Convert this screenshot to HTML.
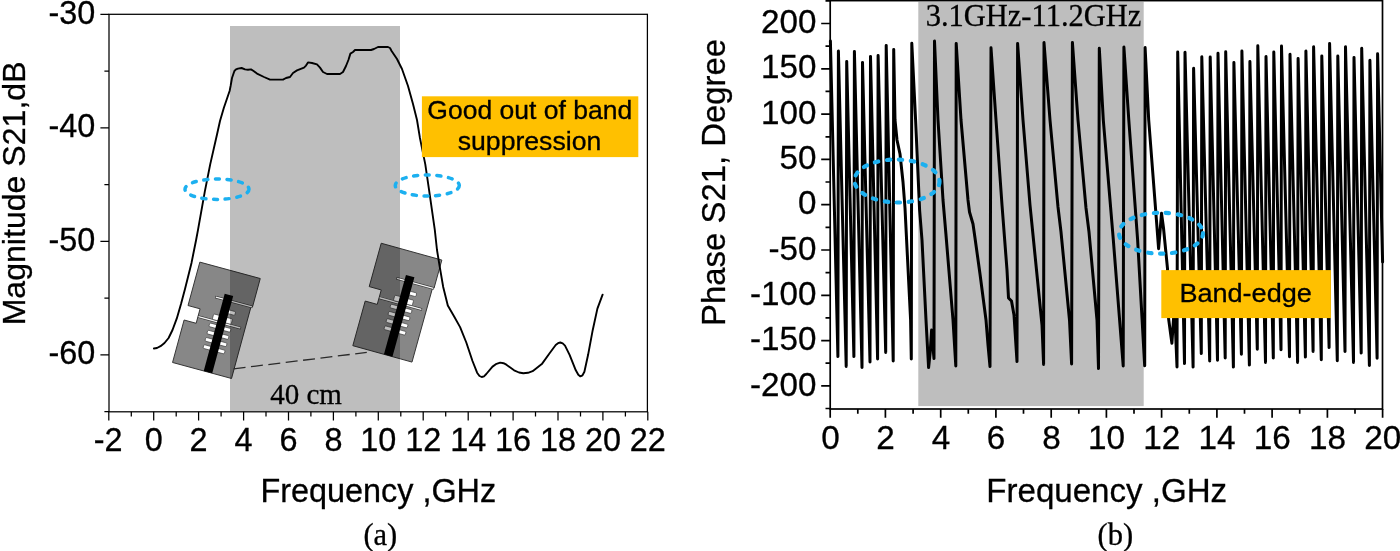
<!DOCTYPE html>
<html lang="en">
<head>
<meta charset="utf-8">
<title>S21 magnitude and phase</title>
<style>
html,body{margin:0;padding:0;background:#fff;}
body{width:1400px;height:551px;overflow:hidden;}
svg{display:block;}
text{fill:#000;stroke:#000;stroke-width:.3px;}
.s{font-family:"Liberation Sans", Arial, Helvetica, sans-serif;}
.r{font-family:"Liberation Serif", "Times New Roman", serif;}
</style>
</head>
<body>
<svg width="1400" height="551" viewBox="0 0 1400 551">
<rect width="1400" height="551" fill="#fff"/>
<g id="chart-a">
<g transform="translate(216.4 320.5) rotate(15.2) translate(-31.3 -52)">
<path d="M0 0H62.6 V29.3 H61.1 V104 H0 V60 H12.5 V45 H0 Z" fill="#878787" stroke="#333" stroke-width="0.9" stroke-linejoin="round"/>
<path d="M24 29.6H62.6 M12.5 53H57" stroke="#333" stroke-width="2.6" fill="none"/>
<path d="M24.6 29.6H62 M13 53H56.4" stroke="#f4f4f4" stroke-width="1.4" fill="none"/>
<rect x="27" y="46.3" width="19.5" height="5.6" rx="1" fill="#fff" stroke="#333" stroke-width="0.6"/>
<rect x="25.6" y="56" width="8" height="3.8" rx="1" fill="#fff" stroke="#333" stroke-width="0.6"/>
<rect x="25.6" y="63.5" width="8" height="3.8" rx="1" fill="#fff" stroke="#333" stroke-width="0.6"/>
<rect x="25.6" y="71" width="8" height="3.8" rx="1" fill="#fff" stroke="#333" stroke-width="0.6"/>
<rect x="25.6" y="78.5" width="8" height="3.8" rx="1" fill="#fff" stroke="#333" stroke-width="0.6"/>
<rect x="40" y="38.5" width="7.6" height="3.8" rx="1" fill="#fff" stroke="#333" stroke-width="0.6"/>
<rect x="40" y="56" width="7.6" height="3.8" rx="1" fill="#fff" stroke="#333" stroke-width="0.6"/>
<rect x="40" y="63.5" width="7.6" height="3.8" rx="1" fill="#fff" stroke="#333" stroke-width="0.6"/>
<rect x="40" y="71" width="7.6" height="3.8" rx="1" fill="#fff" stroke="#333" stroke-width="0.6"/>
<rect x="40" y="78.5" width="7.6" height="3.8" rx="1" fill="#fff" stroke="#333" stroke-width="0.6"/>
<rect x="32.3" y="24" width="8.8" height="80" fill="#000"/>
</g>
<g transform="translate(397.3 302.8) rotate(15.5) translate(-31.4 -53.1)">
<path d="M0 0H62.9 V29.3 H61.4 V106.3 H0 V60 H12.5 V45 H0 Z" fill="#878787" stroke="#333" stroke-width="0.9" stroke-linejoin="round"/>
<path d="M24 29.6H62.9 M12.5 53H57" stroke="#333" stroke-width="2.6" fill="none"/>
<path d="M24.6 29.6H62.3 M13 53H56.4" stroke="#f4f4f4" stroke-width="1.4" fill="none"/>
<rect x="27" y="46.3" width="19.5" height="5.6" rx="1" fill="#fff" stroke="#333" stroke-width="0.6"/>
<rect x="25.6" y="56" width="8" height="3.8" rx="1" fill="#fff" stroke="#333" stroke-width="0.6"/>
<rect x="25.6" y="63.5" width="8" height="3.8" rx="1" fill="#fff" stroke="#333" stroke-width="0.6"/>
<rect x="25.6" y="71" width="8" height="3.8" rx="1" fill="#fff" stroke="#333" stroke-width="0.6"/>
<rect x="25.6" y="78.5" width="8" height="3.8" rx="1" fill="#fff" stroke="#333" stroke-width="0.6"/>
<rect x="40" y="38.5" width="7.6" height="3.8" rx="1" fill="#fff" stroke="#333" stroke-width="0.6"/>
<rect x="40" y="56" width="7.6" height="3.8" rx="1" fill="#fff" stroke="#333" stroke-width="0.6"/>
<rect x="40" y="63.5" width="7.6" height="3.8" rx="1" fill="#fff" stroke="#333" stroke-width="0.6"/>
<rect x="40" y="71" width="7.6" height="3.8" rx="1" fill="#fff" stroke="#333" stroke-width="0.6"/>
<rect x="40" y="78.5" width="7.6" height="3.8" rx="1" fill="#fff" stroke="#333" stroke-width="0.6"/>
<rect x="32.3" y="24" width="8.8" height="82.3" fill="#000"/>
</g>
<path d="M233.6 368.8L366.8 352.4" stroke="#3a3a3a" stroke-width="1.3" stroke-dasharray="12 5.5" fill="none"/>
<rect x="230" y="26" width="170" height="385" fill="#000" fill-opacity="0.255"/>
<rect x="109" y="14.3" width="538.4" height="397.5" fill="none" stroke="#000" stroke-width="1.25"/>
<path d="M109 14.4H100.4M109 127.9H100.4M109 241.4H100.4M109 354.9H100.4M109 71.2H104.4M109 184.7H104.4M109 298.1H104.4M109 411.6H104.4M108.8 411.8V420.6M131.3 411.8V416.5M153.7 411.8V420.6M176.2 411.8V416.5M198.6 411.8V420.6M221.1 411.8V416.5M243.6 411.8V420.6M266 411.8V416.5M288.5 411.8V420.6M310.9 411.8V416.5M333.4 411.8V420.6M355.9 411.8V416.5M378.3 411.8V420.6M400.8 411.8V416.5M423.2 411.8V420.6M445.7 411.8V416.5M468.2 411.8V420.6M490.6 411.8V416.5M513.1 411.8V420.6M535.5 411.8V416.5M558 411.8V420.6M580.5 411.8V416.5M602.9 411.8V420.6M625.4 411.8V416.5M647.8 411.8V420.6" stroke="#000" stroke-width="1.25" fill="none"/>
<text class="s" transform="translate(95.4 23.7)" font-size="32.4" text-anchor="end">-30</text>
<text class="s" transform="translate(95.4 137.2)" font-size="32.4" text-anchor="end">-40</text>
<text class="s" transform="translate(95.4 250.7)" font-size="32.4" text-anchor="end">-50</text>
<text class="s" transform="translate(95.4 364.2)" font-size="32.4" text-anchor="end">-60</text>
<text class="s" transform="translate(108.2 450.7)" font-size="32.4" text-anchor="middle">-2</text>
<text class="s" transform="translate(153.7 450.7)" font-size="32.4" text-anchor="middle">0</text>
<text class="s" transform="translate(198.6 450.7)" font-size="32.4" text-anchor="middle">2</text>
<text class="s" transform="translate(243.6 450.7)" font-size="32.4" text-anchor="middle">4</text>
<text class="s" transform="translate(288.5 450.7)" font-size="32.4" text-anchor="middle">6</text>
<text class="s" transform="translate(333.4 450.7)" font-size="32.4" text-anchor="middle">8</text>
<text class="s" transform="translate(378.3 450.7)" font-size="32.4" text-anchor="middle">10</text>
<text class="s" transform="translate(423.2 450.7)" font-size="32.4" text-anchor="middle">12</text>
<text class="s" transform="translate(468.2 450.7)" font-size="32.4" text-anchor="middle">14</text>
<text class="s" transform="translate(513.1 450.7)" font-size="32.4" text-anchor="middle">16</text>
<text class="s" transform="translate(558 450.7)" font-size="32.4" text-anchor="middle">18</text>
<text class="s" transform="translate(602.9 450.7)" font-size="32.4" text-anchor="middle">20</text>
<text class="s" transform="translate(647.8 450.7)" font-size="32.4" text-anchor="middle">22</text>
<text class="s" transform="translate(24.5 193.4) rotate(-90)" font-size="32.1" text-anchor="middle">Magnitude S21,dB</text>
<text class="s" transform="translate(378.3 502.2)" font-size="32.4" text-anchor="middle">Frequency ,GHz</text>
<text class="r" transform="translate(380.3 545.1)" font-size="30.5" text-anchor="middle">(a)</text>
<text class="r" transform="translate(306 404.4)" font-size="29" text-anchor="middle">40 cm</text>
<polyline points="153.9,348.5 157,348 160.5,346.2 164.5,343 168.6,338 172.5,330 176.8,318.4 181,304 185,289 191.5,262.9 196.1,240 198,229.8 204.8,191.7 210.2,164.4 217,134.5 220,121 223.8,108 229.6,91 230.6,86 232,78 234.4,71 236,69.4 238,68.6 241.6,68 245,69.4 248,69.7 251,69.4 253.6,71 257,73.6 264,77 270,79.6 283,79.6 286,78 290,77 293,73 297,70.4 304,67.6 306,65.6 308,62.4 312,63 317,64.4 320,67.6 323,72 327,74 340,74 343,72 346,66 348.4,60 350.4,53.6 353,52 355,50 371,50 374,49 378,47 388,47 390,48 391.6,51 397,59 402,69 408,86 413,104 417,120 419.8,137.2 425.3,164.4 429.3,191.7 434.8,229.8 437,250 439.5,265.4 443.2,287 447.8,305.5 454,316.3 460.1,327.1 466.3,342.5 472.5,361 477.1,372.7 479.5,376 481.7,377 484,376.3 486.3,374 492.5,366.6 496.5,363.8 500.2,362.6 503.5,363.2 506.4,364.7 514.1,370.3 519,372.5 523.3,373.3 528,372.8 532.6,371.2 541.8,364.1 549.6,353.3 555.7,345 558,343.2 560.3,342.5 562.7,343.4 565,345.6 569.6,354.8 575.8,370.3 578.3,374.8 580.4,376.4 582.5,375.3 584.4,371.8 588.1,354.8 592.7,330.2 597.4,308.6 602.6,294.7" fill="none" stroke="#000" stroke-width="1.9" stroke-linejoin="round" stroke-linecap="round"/>
<ellipse cx="217" cy="189.2" rx="32" ry="10.2" fill="none" stroke="#1cb0f0" stroke-width="3.5" stroke-dasharray="4 7.6" stroke-linecap="round"/>
<ellipse cx="427.3" cy="185.5" rx="32" ry="10.5" fill="none" stroke="#1cb0f0" stroke-width="3.5" stroke-dasharray="4 7.6" stroke-linecap="round"/>
<rect x="421.9" y="96.3" width="216.4" height="60.8" fill="#ffc000"/>
<text class="s" transform="translate(529.8 118.7) scale(1.062 1)" font-size="25" text-anchor="middle">Good out of band</text>
<text class="s" transform="translate(529.5 150.3) scale(1.065 1)" font-size="25" text-anchor="middle">suppression</text>
</g>
<g id="chart-b">
<rect x="918.3" y="1.8" width="225.4" height="404.3" fill="#bebebe"/>
<text class="r" transform="translate(1033.5 25.7)" font-size="30.5" text-anchor="middle">3.1GHz-11.2GHz</text>
<rect x="830.2" y="0.6" width="552.3" height="408.4" fill="none" stroke="#000" stroke-width="1.7"/>
<path d="M830.2 408.5H825.5M830.2 385.9H821.2M830.2 363.2H825.5M830.2 340.6H821.2M830.2 317.9H825.5M830.2 295.3H821.2M830.2 272.6H825.5M830.2 250H821.2M830.2 227.3H825.5M830.2 204.7H821.2M830.2 182H825.5M830.2 159.4H821.2M830.2 136.8H825.5M830.2 114.1H821.2M830.2 91.4H825.5M830.2 68.8H821.2M830.2 46.1H825.5M830.2 23.5H821.2M830.2 0.8H825.5M830.2 409V417.8M857.8 409V413.7M885.4 409V417.8M913.1 409V413.7M940.7 409V417.8M968.3 409V413.7M995.9 409V417.8M1023.5 409V413.7M1051.2 409V417.8M1078.8 409V413.7M1106.4 409V417.8M1134 409V413.7M1161.6 409V417.8M1189.3 409V413.7M1216.9 409V417.8M1244.5 409V413.7M1272.1 409V417.8M1299.7 409V413.7M1327.4 409V417.8M1355 409V413.7M1382.6 409V417.8" stroke="#000" stroke-width="1.7" fill="none"/>
<text class="s" transform="translate(816.4 395.5)" font-size="33.2" text-anchor="end">-200</text>
<text class="s" transform="translate(816.4 350.2)" font-size="33.2" text-anchor="end">-150</text>
<text class="s" transform="translate(816.4 304.9)" font-size="33.2" text-anchor="end">-100</text>
<text class="s" transform="translate(816.4 259.6)" font-size="33.2" text-anchor="end">-50</text>
<text class="s" transform="translate(816.4 214.3)" font-size="33.2" text-anchor="end">0</text>
<text class="s" transform="translate(816.4 169)" font-size="33.2" text-anchor="end">50</text>
<text class="s" transform="translate(816.4 123.7)" font-size="33.2" text-anchor="end">100</text>
<text class="s" transform="translate(816.4 78.4)" font-size="33.2" text-anchor="end">150</text>
<text class="s" transform="translate(816.4 33.1)" font-size="33.2" text-anchor="end">200</text>
<text class="s" transform="translate(830.4 449.2)" font-size="33.3" text-anchor="middle">0</text>
<text class="s" transform="translate(885.6 449.2)" font-size="33.3" text-anchor="middle">2</text>
<text class="s" transform="translate(940.9 449.2)" font-size="33.3" text-anchor="middle">4</text>
<text class="s" transform="translate(996.1 449.2)" font-size="33.3" text-anchor="middle">6</text>
<text class="s" transform="translate(1051.4 449.2)" font-size="33.3" text-anchor="middle">8</text>
<text class="s" transform="translate(1106.6 449.2)" font-size="33.3" text-anchor="middle">10</text>
<text class="s" transform="translate(1161.8 449.2)" font-size="33.3" text-anchor="middle">12</text>
<text class="s" transform="translate(1217.1 449.2)" font-size="33.3" text-anchor="middle">14</text>
<text class="s" transform="translate(1272.3 449.2)" font-size="33.3" text-anchor="middle">16</text>
<text class="s" transform="translate(1327.6 449.2)" font-size="33.3" text-anchor="middle">18</text>
<text class="s" transform="translate(1382.8 449.2)" font-size="33.3" text-anchor="middle">20</text>
<text class="s" transform="translate(724.8 182.4) rotate(-90)" font-size="32.9" text-anchor="middle">Phase S21, Degree</text>
<text class="s" transform="translate(1106.7 502)" font-size="33.1" text-anchor="middle">Frequency ,GHz</text>
<text class="r" transform="translate(1115.3 545.1)" font-size="30.5" text-anchor="middle">(b)</text>
<polyline points="830.4,41 837.9,356.6 838.4,51 846.2,366.4 846.7,61.4 853.9,356.6 854.4,51.4 862,367.4 862.5,62.4 870,362 870.5,56.4 877.6,359 878.1,55.6 885.7,352.4 886.2,45.4 893.2,361 893.7,49.4 895,120 897,140 900,154 903,182 905,208 908,268 910.6,320 911.3,359 911.8,43.2 915.6,120 919.6,210 922,240 926,320 928.6,367.6 930.2,352 931.6,330 932.8,345 934,358.6 934.5,41 938,120 943,200 946,235 953,320 955.8,366 956.2,43.4 961,120 968,200 969.5,212 973,224 975,238 980,274 986,320 988,345 990,366.6 991,47.8 996,120 1002,205 1007,270 1008.5,298 1011.5,301 1014,315 1017,361.6 1017.6,43.4 1023,120 1030,205 1033,235 1042,325 1043.6,364.4 1044,42.6 1050,120 1058,207 1061,232 1069.5,320 1071.6,364 1072.4,42.4 1078,120 1086,208 1089,232 1097,320 1098.5,368.6 1099.3,48.3 1103.3,120 1113.3,239.6 1123.2,366 1123.9,47 1128.8,120 1137.6,239.6 1144.7,365.8 1145.1,47.5 1148.7,120 1156.4,219.6 1158.6,248.7 1160,232 1161.5,213.3 1163.5,228 1167.5,268.6 1168.6,318.8 1171.9,343.2 1174,312 1175.5,330 1177,366.9 1177.7,52.1 1184.5,363.6 1185,52.3 1193.1,367.1 1193.6,68.3 1201.3,353.6 1201.8,56.8 1209.7,360.9 1210.2,57 1217.5,360.2 1218,53.2 1225.2,358 1225.7,51.7 1233.4,367.1 1233.9,62.5 1241.4,354.3 1241.9,51 1249.4,365.1 1249.9,61.6 1257.3,349.2 1257.8,45.7 1265.5,362.4 1266,56.5 1273.3,358 1273.8,52.1 1281,349.8 1281.5,46.1 1289.5,356.7 1290,54.3 1297.6,362.4 1298.1,58.5 1305.4,357.1 1305.9,51 1313.1,351.4 1313.6,46.8 1321.3,359.8 1321.8,55.9 1329.1,347.6 1329.6,43.5 1337.3,360.7 1337.8,56.1 1345,351.4 1345.5,46.8 1353.5,362.4 1354,57.4 1361.2,353.1 1361.7,48.3 1369.4,365.5 1369.9,60.3 1377.1,358.2 1377.6,53.7 1382.6,262" fill="none" stroke="#000" stroke-width="3" stroke-linejoin="round" stroke-linecap="round"/>
<ellipse cx="897" cy="181" rx="42.5" ry="21.5" fill="none" stroke="#1cb0f0" stroke-width="4.2" stroke-dasharray="3.4 8.6" stroke-linecap="round" transform="rotate(1 897 181)"/>
<ellipse cx="1161" cy="233.2" rx="42" ry="20.5" fill="none" stroke="#1cb0f0" stroke-width="4.2" stroke-dasharray="3.4 8.6" stroke-linecap="round"/>
<rect x="1161.3" y="270.1" width="169.6" height="48" fill="#ffc000"/>
<text class="s" transform="translate(1245.6 302.3) scale(1.025 1)" font-size="26.4" text-anchor="middle">Band-edge</text>
</g>
</svg>
</body>
</html>
